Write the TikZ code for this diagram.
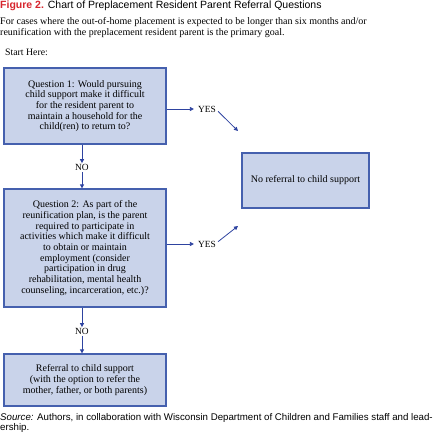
\documentclass[tikz,border=0pt]{standalone}
\usepackage{fontspec}
\setmainfont{Liberation Serif}
\newfontfamily\headfont{Liberation Sans}
\usetikzlibrary{arrows.meta}
\definecolor{boxfill}{HTML}{C9D3EA}
\definecolor{boxline}{HTML}{4560AE}
\definecolor{arrowblue}{HTML}{2E43A0}
\definecolor{figred}{HTML}{D7262E}

\begin{document}
\begin{tikzpicture}[x=1pt, y=-1pt,
        qbox/.style = {draw=boxline, fill=boxfill, line width=1.2pt,
            minimum width=162pt, align=center, inner sep=0pt,
            font=\fontsize{10}{10.7}\selectfont},
        answer/.style = {font=\fontsize{9.4}{10}\selectfont, inner sep=1pt},
        link/.style = {draw=arrowblue, line width=0.8pt,
            -{Triangle[length=4pt, width=4pt]}}]

    \useasboundingbox (0,0) rectangle (432,440);

    % Heading
    \node[anchor=base west, inner sep=0pt, font=\headfont\fontsize{10.5}{12}\selectfont] (title) at (0,8)
        {\textcolor{figred}{\textbf{Figure 2.}} Chart of Preplacement Resident Parent Referral Questions};
    \node[anchor=north west, inner sep=0pt, align=left, font=\fontsize{10}{11}\selectfont] (intro) at (0,17.5)
        {For cases where the out-of-home placement is expected to be longer than six months and/or\\
         reunification with the preplacement resident parent is the primary goal.};
    \node[anchor=base west, inner sep=0pt, font=\fontsize{9.8}{10}\selectfont] (start) at (5,55) {Start Here:};

    % Question 1
    \node[qbox, minimum height=76pt] (q1) at (85,106)
        {Question 1: Would pursuing\\ child support make it difficult\\ for the resident parent to\\
         maintain a household for the\\ child(ren) to return to?};

    % Question 2
    \node[qbox, minimum height=118pt] (q2) at (85,248)
        {Question 2: As part of the\\ reunification plan, is the parent\\ required to participate in\\
         activities which make it difficult\\ to obtain or maintain\\ employment (consider\\
         participation in drug\\ rehabilitation, mental health\\ counseling, incarceration, etc.)?};

    % Outcomes
    \node[qbox, minimum height=52pt] (refer) at (85,380)
        {Referral to child support\\ (with the option to refer the\\ mother, father, or both parents)};
    \node[qbox, minimum width=127pt, minimum height=55pt] (noref) at (305.5,180.5)
        {No referral to child support};

    % Answers
    \node[answer] (yes1) at (207,109) {YES};
    \node[answer] (yes2) at (207,244) {YES};
    \node[answer] (no1) at (82,167.5) {NO};
    \node[answer] (no2) at (82,331.5) {NO};
    \coordinate (tip1) at (238,131);
    \coordinate (tip2) at (238,226);

    % Arrows
    \draw[link] (q1.east |- yes1) -- ([xshift=-3pt]yes1.west);
    \draw[link] ([shift={(1pt,2pt)}]yes1.south east) -- (tip1);
    \draw[link] (q2.east |- yes2) -- ([xshift=-3pt]yes2.west);
    \draw[link] ([shift={(1pt,-2pt)}]yes2.north east) -- (tip2);
    \draw[link] (q1.south -| no1) -- (no1.north);
    \draw[link] (no1.south) -- (q2.north -| no1);
    \draw[link] (q2.south -| no2) -- (no2.north);
    \draw[link] (no2.south) -- (refer.north -| no2);

    % Source
    \node[anchor=north west, inner sep=0pt, align=left, font=\headfont\fontsize{9.7}{10}\selectfont] (source) at (0,413)
        {\textit{Source:} Authors, in collaboration with Wisconsin Department of Children and Families staff and lead-\\ership.};

\end{tikzpicture}
\end{document}
